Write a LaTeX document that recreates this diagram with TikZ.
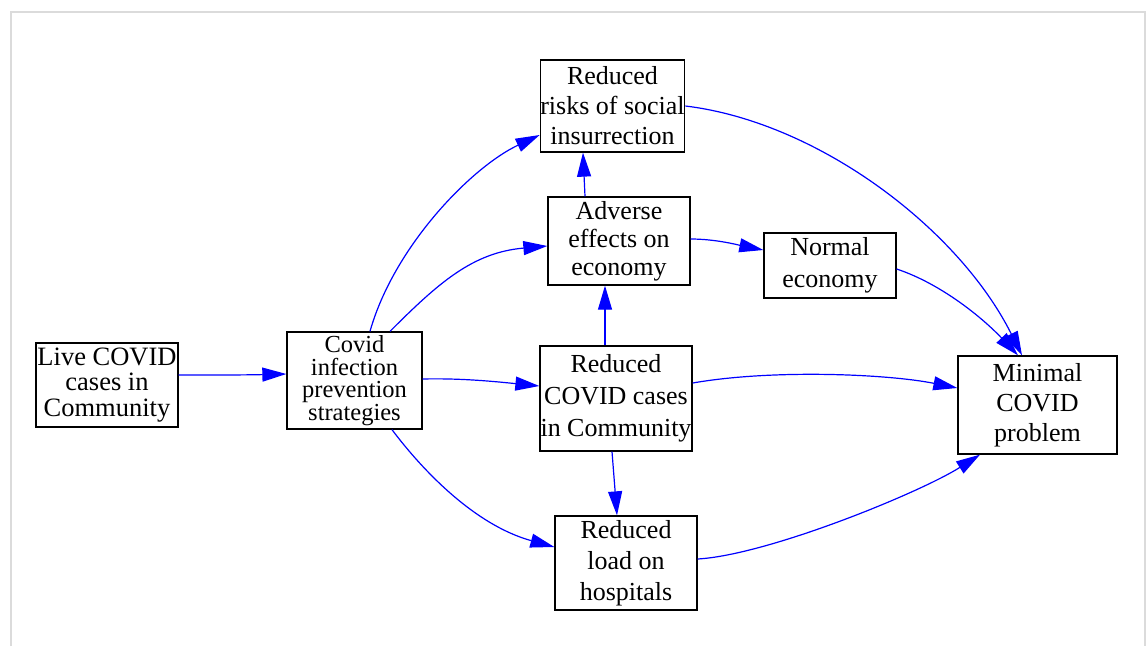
\documentclass[tikz,border=0pt]{standalone}
\usepackage{fontspec}
\setmainfont{Liberation Serif}
\usetikzlibrary{arrows.meta}
\tikzset{
  box/.style={draw=black, line width=1.3pt, fill=white, inner sep=0pt, align=center,
    font=\fontsize{26}{30}\selectfont},
  edge/.style={draw=blue, line width=1.2pt, -{Triangle[length=24pt,width=14pt]}},
  frame/.style={draw=black!14, line width=2pt}
}
\begin{document}
\begin{tikzpicture}[x=1pt,y=-1pt]
\useasboundingbox (0,0) rectangle (1146,646);
\draw[frame] (10.5,646) -- (10.5,11.5) -- (1145,11.5) -- (1145,646);

% boxes
\node[box, minimum width=142pt, minimum height=84pt, font=\fontsize{26.5}{25.5}\selectfont]
  (live) at (107,385) {Live COVID\\cases in\\Community};
\node[box, minimum width=135pt, minimum height=97pt, font=\fontsize{24.5}{22.5}\selectfont]
  (cov) at (354.5,380.5) {Covid\\infection\\prevention\\strategies};
\node[box, minimum width=141pt, minimum height=92pt, font=\fontsize{26}{30}\selectfont]
  (risk) at (612.5,106) {Reduced\\risks of social\\insurrection};
\node[box, minimum width=142pt, minimum height=88pt, font=\fontsize{26}{28}\selectfont]
  (adv) at (619,241) {Adverse\\effects on\\economy};
\node[box, minimum width=132pt, minimum height=65pt, font=\fontsize{26}{32}\selectfont]
  (norm) at (830,265.5) {Normal\\economy};
\node[box, minimum width=152pt, minimum height=105pt, font=\fontsize{26}{32}\selectfont]
  (red) at (616,398.5) {Reduced\\COVID cases\\in Community};
\node[box, minimum width=142pt, minimum height=94pt, font=\fontsize{26}{31}\selectfont]
  (load) at (626,563) {Reduced\\load on\\hospitals};
\node[box, minimum width=159pt, minimum height=98pt, font=\fontsize{26}{30}\selectfont]
  (mini) at (1037.5,405) {Minimal\\COVID\\problem};

% connectors
\draw[edge] ([yshift=10pt]live.east) .. controls +(40,0) and +(-40,1) .. ([yshift=6.5pt]cov.west);
\draw[edge] ([xshift=15.5pt]cov.north) .. controls +(24,-85) and +(-68,32) .. ([yshift=-29pt]risk.west);
\draw[edge] ([xshift=35.5pt]cov.north) .. controls +(49,-49) and +(-74.5,6.5) .. ([yshift=-5pt]adv.west);
\draw[edge] ([yshift=1.5pt]cov.east) .. controls +(40,-1) and +(-40,-4) .. ([yshift=12.5pt]red.west);
\draw[edge] ([xshift=37.5pt]cov.south) .. controls +(30,40) and +(-80,-22) .. ([yshift=16pt]load.west);
\draw[edge] ([xshift=-34pt]adv.north) -- ([xshift=-29.5pt]risk.south);
\draw[edge] ([yshift=2pt]adv.east) .. controls +(25,0) and +(-25,-5) .. ([yshift=15.5pt]norm.west);
\draw[edge] ([xshift=-11pt]red.north) -- ([xshift=-14pt]adv.south);
\draw[edge] ([xshift=-4pt]red.south) -- ([xshift=-9pt]load.north);
\draw[edge] ([yshift=15.5pt]red.east) .. controls +(80,-14) and +(-70,-14) .. ([yshift=17pt]mini.west);
\draw[edge] (risk.east) .. controls +(132.7,16) and +(-63.4,-126.8) .. ([xshift=-15.5pt]mini.north);
\draw[edge] ([yshift=-3.5pt]norm.east) .. controls +(45,15) and +(-35,-37) .. ([xshift=-19.5pt]mini.north);
\draw[edge] ([yshift=4pt]load.east) .. controls +(70,-4) and +(-60,38) .. ([xshift=-57.5pt]mini.south);
\end{tikzpicture}
\end{document}
